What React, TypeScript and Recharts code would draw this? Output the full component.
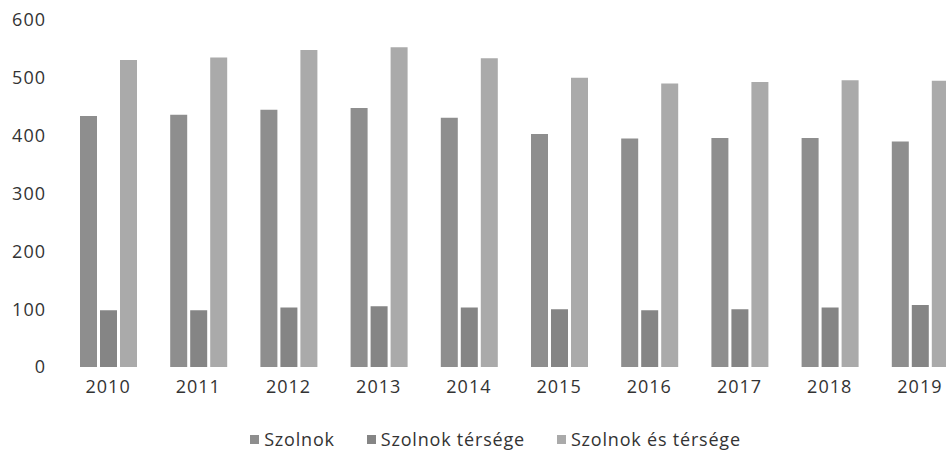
import React from 'react';
import { BarChart, Bar, XAxis, YAxis, Legend } from 'recharts';

const years = ['2010', '2011', '2012', '2013', '2014', '2015', '2016', '2017', '2018', '2019'];
const szolnok = [434, 436, 445, 448, 431, 403, 395, 396, 396, 390];
const tersege = [98, 98, 103, 105, 103, 100, 98, 100, 103, 107];
const esTersege = [531, 535, 548, 553, 534, 500, 490, 493, 496, 495];
const yTicks = [0, 100, 200, 300, 400, 500, 600];

const SERIES = [
  { key: 'szolnok', name: 'Szolnok', color: '#8e8e8e' },
  { key: 'tersege', name: 'Szolnok térsége', color: '#858585' },
  { key: 'esTersege', name: 'Szolnok és térsége', color: '#aaaaaa' },
];

const FONT = '"Open Sans", sans-serif';
const tickStyle = { fill: '#333', fontSize: 18, fontFamily: FONT, letterSpacing: 1 };

// Legend drawn as its own row so the square/label spacing matches the scan
const LegendContent = () => (
  <div
    style={{
      height: 46,
      display: 'flex',
      alignItems: 'flex-end',
      justifyContent: 'center',
      paddingLeft: 26,
      paddingBottom: 7,
      boxSizing: 'border-box',
      fontFamily: FONT,
      fontSize: 18,
      letterSpacing: 0.8,
      lineHeight: '24px',
      color: '#333',
    }}
  >
    {SERIES.map((s, i) => (
      <div key={s.key} style={{ display: 'flex', alignItems: 'center', marginLeft: i === 0 ? 0 : 32 }}>
        <span style={{ width: 9, height: 9, background: s.color, marginRight: 5, display: 'inline-block' }} />
        {s.name}
      </div>
    ))}
  </div>
);

const App: React.FC = () => {
  const data = years.map((year, i) => ({
    year,
    szolnok: szolnok[i],
    tersege: tersege[i],
    esTersege: esTersege[i],
  }));

  return (
    <div style={{ position: 'fixed', left: 0, top: 0, width: 946, height: 458, overflow: 'hidden', background: '#fff' }}>
      <BarChart
        width={985}
        height={458}
        data={data}
        margin={{ top: 20, right: 20, bottom: 0, left: 0 }}
        barSize={17}
        barGap={3}
      >
        <XAxis
          dataKey="year"
          axisLine={false}
          tickLine={false}
          tick={tickStyle}
          tickMargin={7}
          height={45}
        />
        <YAxis
          domain={[0, 600]}
          ticks={yTicks}
          axisLine={false}
          tickLine={false}
          tickSize={0}
          tickMargin={17}
          width={63}
          tick={tickStyle}
        />
        <Legend verticalAlign="bottom" content={<LegendContent />} />
        {SERIES.map((s) => (
          <Bar key={s.key} dataKey={s.key} name={s.name} fill={s.color} isAnimationActive={false} />
        ))}
      </BarChart>
    </div>
  );
};

export default App;
